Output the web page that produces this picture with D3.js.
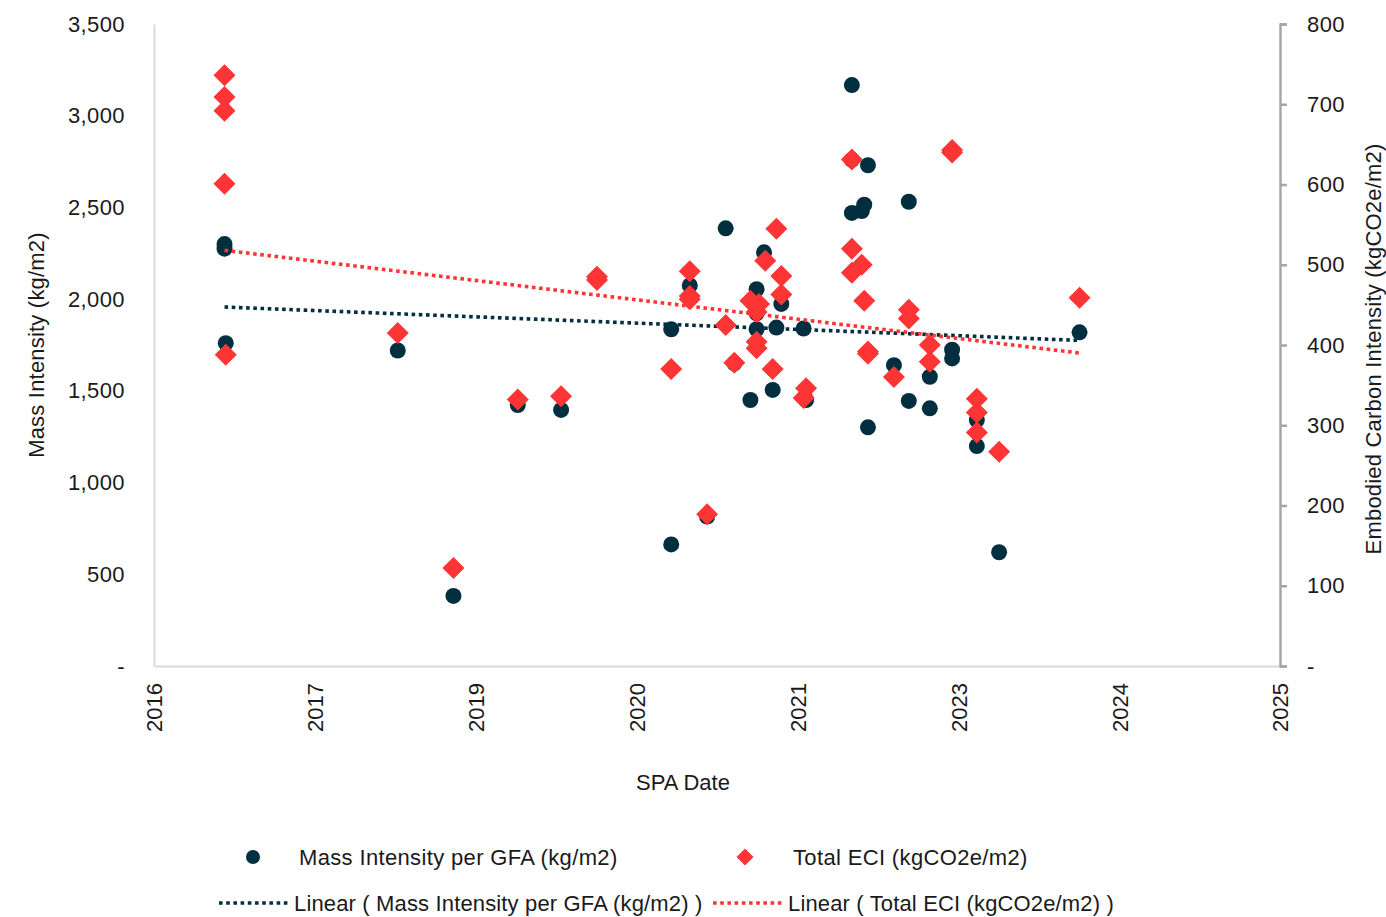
<!DOCTYPE html>
<html>
<head>
<meta charset="utf-8">
<script src="https://cdn.jsdelivr.net/npm/d3@7"></script>
<style>
  html, body { margin: 0; padding: 0; background: #ffffff; }
  svg text { font-family: "Liberation Sans", Arial, sans-serif; fill: #1a1a1a; }
</style>
</head>
<body>
<svg id="chart" width="1386" height="917"></svg>
<script>
// ---------------- data ----------------
// SPA date as decimal year
const massDates = [2017.17, 2017.17, 2017.18, 2018.57, 2019.02, 2019.54, 2019.89, 2020.78, 2020.78, 2020.93,
  2021.07, 2021.22, 2021.29, 2021.42, 2021.47, 2021.47, 2021.47, 2021.53, 2021.60, 2021.63,
  2021.67, 2021.85, 2021.87, 2022.24, 2022.24, 2022.37, 2022.24, 2022.32, 2022.34, 2022.37,
  2022.58, 2022.70, 2022.70, 2022.87, 2022.87, 2023.05, 2023.05, 2023.25, 2023.25, 2023.43, 2024.08];
const massValues = [2300, 2275, 1760, 1720, 382, 1423, 1396, 1836, 663, 2075,
  815, 2386, 1650, 1450, 2054, 1923, 1836, 2255, 1505, 1845,
  1974, 1840, 1450, 3167, 2759, 2730, 2470, 2480, 2515, 1301,
  1640, 2531, 1445, 1577, 1405, 1724, 1677, 1341, 1199, 620, 1819];

const eciDates = [2017.17, 2017.17, 2017.17, 2017.17, 2017.18, 2018.57, 2019.02, 2019.54, 2019.89, 2020.18,
  2020.18, 2020.78, 2020.93, 2020.93, 2020.93, 2021.07, 2021.22, 2021.29, 2021.42, 2021.49,
  2021.47, 2021.47, 2021.47, 2021.54, 2021.60, 2021.63, 2021.67, 2021.67, 2021.85, 2021.87,
  2022.24, 2022.24, 2022.24, 2022.32, 2022.34, 2022.37, 2022.37, 2022.58, 2022.70, 2022.70,
  2022.87, 2022.87, 2023.05, 2023.05, 2023.25, 2023.25, 2023.25, 2023.43, 2024.08];
const eciValues = [736, 709, 692, 601, 388, 415, 122, 332, 336, 485,
  481, 370, 492, 461, 457, 189, 425, 378, 455, 451,
  441, 404, 396, 505, 370, 545, 486, 463, 334, 346,
  631, 520, 490, 500, 455, 392, 389, 360, 444, 433,
  400, 379, 643, 640, 333, 316, 291, 267, 459];

// linear trendline values at first and last SPA date
const trendDates = [2017.17, 2024.08];
const massTrend = [1957, 1775];
const eciTrend = [518, 390];

const xTickValues = [2016.6, 2017.9, 2019.2, 2020.5, 2021.8, 2023.1, 2024.4, 2025.7];
const xTickLabels = ["2016", "2017", "2019", "2020", "2021", "2023", "2024", "2025"];
const leftTicks = [0, 500, 1000, 1500, 2000, 2500, 3000, 3500];
const rightTicks = [0, 100, 200, 300, 400, 500, 600, 700, 800];

const massName = "Mass Intensity per GFA (kg/m2)";
const eciName = "Total ECI (kgCO2e/m2)";
const leftTitle = "Mass Intensity (kg/m2)";
const rightTitle = "Embodied Carbon Intensity (kgCO2e/m2)";
const xTitle = "SPA Date";

// ---------------- layout ----------------
const L = 154, R = 1280, T = 24, B = 666;
const navy = "#022f40", red = "#ff3535";
const svg = d3.select("#chart");

const x = d3.scaleLinear().domain([xTickValues[0], xTickValues[xTickValues.length - 1]]).range([L, R]);
const yL = d3.scaleLinear().domain([0, 3500]).range([B, T]);
const yR = d3.scaleLinear().domain([0, 800]).range([B, T]);

const fmt = v => v === 0 ? "-" : d3.format(",")(v);

// left axis
const gL = svg.append("g").attr("transform", `translate(${L},0)`)
  .call(d3.axisLeft(yL).tickValues(leftTicks).tickFormat(fmt).tickSize(0).tickPadding(29));
gL.select(".domain").attr("stroke", "#d9d9d9").attr("stroke-width", 2);
gL.selectAll("text").attr("font-size", 22).attr("fill", "#1a1a1a").attr("letter-spacing", "0.4px");

// bottom axis
const gB = svg.append("g").attr("transform", `translate(0,${B})`)
  .call(d3.axisBottom(x).tickValues(xTickValues).tickFormat((d, i) => xTickLabels[i]).tickSize(0));
gB.select(".domain").attr("stroke", "#d9d9d9").attr("stroke-width", 2);
gB.selectAll("text")
  .attr("font-size", 22).attr("fill", "#1a1a1a")
  .attr("text-anchor", "end")
  .attr("transform", "rotate(-90)")
  .attr("x", -17).attr("y", 0).attr("dy", "0.36em");

// right axis
const gR = svg.append("g").attr("transform", `translate(${R},0)`)
  .call(d3.axisRight(yR).tickValues(rightTicks).tickFormat(fmt).tickSizeInner(7).tickSizeOuter(7).tickPadding(20));
gR.select(".domain").attr("stroke", "#a6a6a6").attr("stroke-width", 2.5);
gR.selectAll("line").attr("stroke", "#a6a6a6").attr("stroke-width", 2.5);
gR.selectAll("text").attr("font-size", 22).attr("fill", "#1a1a1a").attr("letter-spacing", "0.4px");

// axis titles
svg.append("text").attr("transform", `translate(44,${(T + B) / 2}) rotate(-90)`)
  .attr("text-anchor", "middle").attr("font-size", 22).attr("letter-spacing", "0.2px").text(leftTitle);
svg.append("text").attr("transform", `translate(1381,${(T + B) / 2 + 4}) rotate(-90)`)
  .attr("text-anchor", "middle").attr("font-size", 22).attr("letter-spacing", "0.2px").text(rightTitle);
svg.append("text").attr("x", (L + R) / 2 - 34).attr("y", 790)
  .attr("text-anchor", "middle").attr("font-size", 22).text(xTitle);

// ---------------- linear trendlines + markers ----------------
const dash = "3.6,3.6";
const plot = svg.append("g");

plot.append("path")
  .attr("d", d3.line()(trendDates.map((d, i) => [x(d), yL(massTrend[i])])))
  .attr("stroke", navy).attr("stroke-width", 3.6).attr("stroke-dasharray", dash).attr("fill", "none");

plot.selectAll("circle.mass").data(massDates.map((d, i) => ({ d, v: massValues[i] })))
  .join("circle").attr("class", "mass")
  .attr("cx", p => x(p.d)).attr("cy", p => yL(p.v)).attr("r", 8).attr("fill", navy);

plot.append("path")
  .attr("d", d3.line()(trendDates.map((d, i) => [x(d), yR(eciTrend[i])])))
  .attr("stroke", red).attr("stroke-width", 3.6).attr("stroke-dasharray", dash).attr("fill", "none");

const diamond = s => `M0,${-s}L${s},0L0,${s}L${-s},0Z`;
plot.selectAll("path.eci").data(eciDates.map((d, i) => ({ d, v: eciValues[i] })))
  .join("path").attr("class", "eci")
  .attr("transform", p => `translate(${x(p.d)},${yR(p.v)})`)
  .attr("d", diamond(11)).attr("fill", red);

// ---------------- legend ----------------
const lg = svg.append("g");
const ls = "0.35px", ls2 = "0.15px";
lg.append("circle").attr("cx", 253).attr("cy", 857).attr("r", 7).attr("fill", navy);
lg.append("text").attr("x", 299).attr("y", 857).attr("dy", "0.35em").attr("font-size", 22).attr("letter-spacing", ls).text(massName);
lg.append("path").attr("transform", "translate(745,857)").attr("d", diamond(8.5)).attr("fill", red);
lg.append("text").attr("x", 793).attr("y", 857).attr("dy", "0.35em").attr("font-size", 22).attr("letter-spacing", ls).text(eciName);

lg.append("line").attr("x1", 219).attr("x2", 288).attr("y1", 903).attr("y2", 903)
  .attr("stroke", navy).attr("stroke-width", 3.6).attr("stroke-dasharray", dash);
lg.append("text").attr("x", 294).attr("y", 903).attr("dy", "0.35em").attr("font-size", 22).attr("letter-spacing", ls2)
  .text("Linear ( " + massName + " )");
lg.append("line").attr("x1", 713).attr("x2", 782).attr("y1", 903).attr("y2", 903)
  .attr("stroke", red).attr("stroke-width", 3.6).attr("stroke-dasharray", dash);
lg.append("text").attr("x", 788).attr("y", 903).attr("dy", "0.35em").attr("font-size", 22).attr("letter-spacing", ls2)
  .text("Linear ( " + eciName + " )");
</script>
</body>
</html>
